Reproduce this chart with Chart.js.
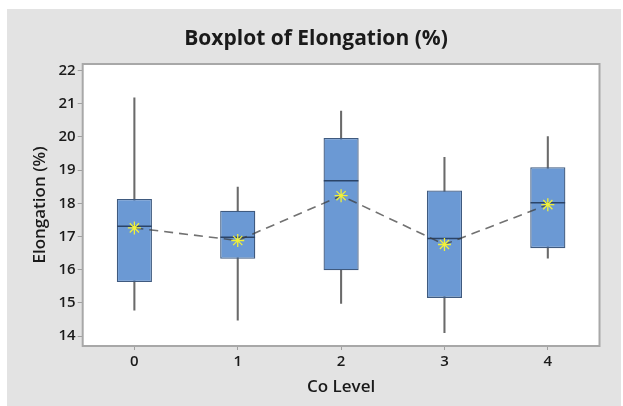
<!DOCTYPE html>
<html>
<head>
<meta charset="utf-8">
<script src="https://cdn.jsdelivr.net/npm/chart.js@4.4.1/dist/chart.umd.min.js"></script>
<style>
  html, body { margin: 0; padding: 0; background: #ffffff; }
  #wrap { width: 623px; height: 406px; position: relative; }
</style>
</head>
<body>
<div id="wrap"><canvas id="c" width="623" height="406"></canvas></div>
<script>
// ---- data ----
const categories = ['0', '1', '2', '3', '4'];
const whiskerLow  = [14.78, 14.48, 14.98, 14.10, 16.35];
const q1          = [15.63, 16.33, 15.98, 15.15, 16.65];
const median      = [17.31, 16.98, 18.68, 16.94, 18.02];
const q3          = [18.13, 17.78, 19.97, 18.39, 19.09];
const whiskerHigh = [21.18, 18.49, 20.78, 19.39, 20.01];
const means       = [17.26, 16.88, 18.23, 16.76, 17.96];
const yTickValues = [14, 15, 16, 17, 18, 19, 20, 21, 22];

const FONT = '"Open Sans", "Noto Sans", "DejaVu Sans", sans-serif';

const framePlugin = {
  id: 'frame',
  beforeDraw(chart) {
    const { ctx, chartArea: a } = chart;
    ctx.save();
    ctx.fillStyle = '#ffffff';
    ctx.fillRect(0, 0, chart.width, chart.height);
    ctx.fillStyle = '#e3e3e3';
    ctx.fillRect(7, 9, 614, 397);
    ctx.fillStyle = '#ffffff';
    ctx.fillRect(a.left, a.top, a.right - a.left, a.bottom - a.top);
    ctx.restore();
  },
  beforeDatasetsDraw(chart) {
    const { ctx, chartArea: a } = chart;
    ctx.save();
    ctx.strokeStyle = '#a8a8a8';
    ctx.lineWidth = 2;
    ctx.strokeRect(a.left, a.top, a.right - a.left, a.bottom - a.top);
    ctx.restore();
  }
};

new Chart(document.getElementById('c'), {
  type: 'bar',
  data: {
    labels: categories,
    datasets: [
      {
        type: 'line',
        label: 'Mean',
        data: means,
        order: 0,
        borderColor: 'rgba(60,60,60,0.72)',
        borderWidth: 1.6,
        borderDash: [9, 6],
        tension: 0,
        fill: false,
        pointStyle: 'star',
        pointRadius: 6.5,
        pointBorderWidth: 1.3,
        pointBorderColor: '#f0f03a',
        pointBackgroundColor: '#f0f03a'
      },
      {
        type: 'line',
        label: 'Median',
        data: median,
        order: 1,
        showLine: false,
        pointStyle: 'line',
        pointRadius: 17.3,
        pointBorderWidth: 1.5,
        pointBorderColor: '#2b4468',
        pointBackgroundColor: '#2b4468'
      },
      {
        label: 'Box',
        data: categories.map((c, i) => [q1[i], q3[i]]),
        order: 2,
        grouped: false,
        categoryPercentage: 1,
        barPercentage: 0.34,
        backgroundColor: '#6b99d4',
        borderColor: '#3f5a7f',
        borderWidth: 1.3,
        borderSkipped: false
      },
      {
        label: 'Whisker',
        data: categories.map((c, i) => [whiskerLow[i], whiskerHigh[i]]),
        order: 3,
        grouped: false,
        barThickness: 1.4,
        backgroundColor: '#6a6a6a',
        borderWidth: 0,
        borderSkipped: false
      }
    ]
  },
  options: {
    responsive: false,
    animation: false,
    events: [],
    layout: { padding: { left: 32.5, right: 23.5, top: 0, bottom: 0 } },
    plugins: {
      legend: { display: false },
      tooltip: { enabled: false },
      title: {
        display: true,
        text: 'Boxplot of Elongation (%)',
        color: '#1a1a1a',
        font: { family: FONT, size: 21, weight: '700' },
        padding: { top: 26.5, bottom: 12.3 }
      }
    },
    scales: {
      x: {
        type: 'category',
        offset: true,
        afterFit(scale) { scale.height = 60; },
        grid: {
          display: true,
          drawOnChartArea: false,
          drawTicks: true,
          tickLength: 4,
          offset: false,
          color: '#a0a0a0'
        },
        border: { display: false },
        ticks: {
          color: '#1a1a1a',
          padding: 3,
          font: { family: FONT, size: 15, weight: '600' }
        },
        title: {
          display: true,
          text: 'Co Level',
          color: '#1a1a1a',
          font: { family: FONT, size: 17, weight: '600' },
          padding: { top: 0, bottom: 9 }
        }
      },
      y: {
        type: 'linear',
        min: 13.7,
        max: 22.2,
        afterFit(scale) { scale.width = 50.2; },
        afterBuildTicks(scale) { scale.ticks = yTickValues.map(v => ({ value: v })); },
        grid: {
          display: true,
          drawOnChartArea: false,
          drawTicks: true,
          tickLength: 5,
          color: '#a0a0a0'
        },
        border: { display: false },
        ticks: {
          color: '#1a1a1a',
          padding: 2,
          font: { family: FONT, size: 15, weight: '600' }
        },
        title: {
          display: true,
          text: 'Elongation (%)',
          color: '#1a1a1a',
          font: { family: FONT, size: 17, weight: '600' },
          padding: { top: -3, bottom: 0 }
        }
      }
    }
  },
  plugins: [framePlugin]
});
</script>
</body>
</html>
